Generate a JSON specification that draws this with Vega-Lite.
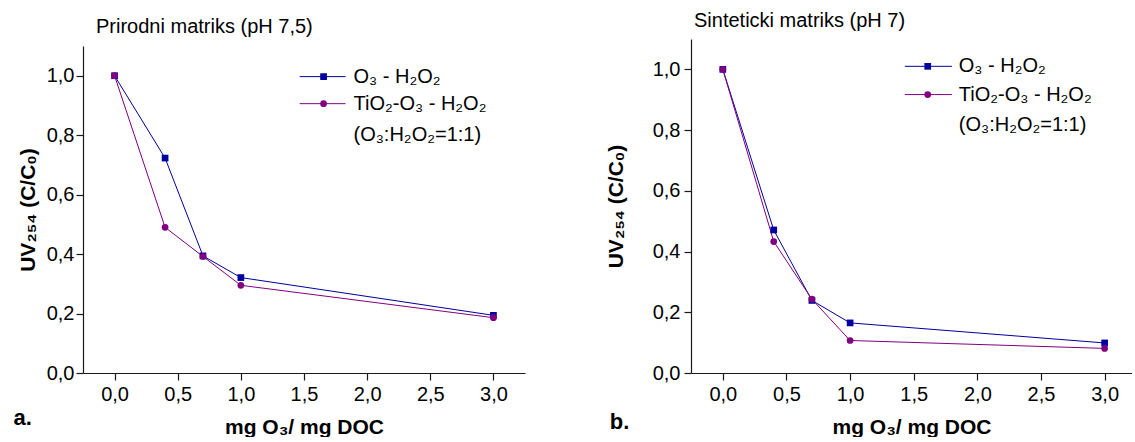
{
"$schema": "https://vega.github.io/schema/vega-lite/v6.json",
"background": "white",
"padding": {"left": 13, "top": 11, "right": 0, "bottom": 0},
"spacing": 80,
"config": {
  "font": "Liberation Sans",
  "view": {"stroke": null},
  "axis": {"grid": false, "domainColor": "#1a1a1a", "domainWidth": 1.2, "tickColor": "#1a1a1a", "tickWidth": 1.2,
    "labelColor": "#000", "labelFontSize": 20, "labelFont": "Liberation Sans",
    "titleColor": "#000", "titleFontSize": 21, "titleFontWeight": "bold", "titleFont": "Liberation Sans",
    "labelFlush": false, "labelOverlap": false},
  "title": {"fontSize": 20, "fontWeight": "normal", "anchor": "start", "frame": "group", "color": "#000", "font": "Liberation Sans"}
},
"datasets": {
  "natural": [
    {"dose": 0, "uv": 1.0, "series": "O3-H2O2"},
    {"dose": 0.4, "uv": 0.723, "series": "O3-H2O2"},
    {"dose": 0.7, "uv": 0.394, "series": "O3-H2O2"},
    {"dose": 1.0, "uv": 0.321, "series": "O3-H2O2"},
    {"dose": 3.0, "uv": 0.194, "series": "O3-H2O2"},
    {"dose": 0, "uv": 1.0, "series": "TiO2-O3-H2O2"},
    {"dose": 0.4, "uv": 0.49, "series": "TiO2-O3-H2O2"},
    {"dose": 0.7, "uv": 0.392, "series": "TiO2-O3-H2O2"},
    {"dose": 1.0, "uv": 0.295, "series": "TiO2-O3-H2O2"},
    {"dose": 3.0, "uv": 0.186, "series": "TiO2-O3-H2O2"}
  ],
  "synthetic": [
    {"dose": 0, "uv": 1.0, "series": "O3-H2O2"},
    {"dose": 0.4, "uv": 0.471, "series": "O3-H2O2"},
    {"dose": 0.7, "uv": 0.239, "series": "O3-H2O2"},
    {"dose": 1.0, "uv": 0.165, "series": "O3-H2O2"},
    {"dose": 3.0, "uv": 0.099, "series": "O3-H2O2"},
    {"dose": 0, "uv": 1.0, "series": "TiO2-O3-H2O2"},
    {"dose": 0.4, "uv": 0.433, "series": "TiO2-O3-H2O2"},
    {"dose": 0.7, "uv": 0.243, "series": "TiO2-O3-H2O2"},
    {"dose": 1.0, "uv": 0.107, "series": "TiO2-O3-H2O2"},
    {"dose": 3.0, "uv": 0.081, "series": "TiO2-O3-H2O2"}
  ]
},
"hconcat": [
  {
    "width": 442, "height": 334,
    "title": {"text": "Prirodni matriks (pH 7,5)", "dx": 13, "offset": 2},
    "layer": [
      {"data": {"name": "natural"}, "mark": {"type": "line", "strokeWidth": 1},
       "encoding": {
         "x": {"field": "dose", "type": "quantitative", "scale": {"domain": [-0.25, 3.25], "nice": false, "zero": false},
           "axis": {"title": "mg O₃/ mg DOC", "values": [0,0.25,0.5,0.75,1,1.25,1.5,1.75,2,2.25,2.5,2.75,3,3.25],
             "labelExpr": "datum.value*2 == round(datum.value*2) ? replace(format(datum.value, '.1f'), '.', ',') : ''",
             "tickSize": {"condition": {"test": "datum.value*2 == round(datum.value*2)", "value": 7}, "value": 4},
             "labelPadding": 4, "titlePadding": 12}},
         "y": {"field": "uv", "type": "quantitative", "scale": {"domain": [0, 1.1], "nice": false, "zero": false, "range": [334, 7]},
           "axis": {"title": "UV₂₅₄ (C/C₀)", "values": [0,0.1,0.2,0.3,0.4,0.5,0.6,0.7,0.8,0.9,1.0],
             "labelExpr": "round(datum.value*10) % 2 == 0 ? replace(format(datum.value, '.1f'), '.', ',') : ''",
             "tickSize": {"condition": {"test": "round(datum.value*10) % 2 == 0", "value": 7}, "value": 4},
             "labelPadding": 2, "titlePadding": 8}},
         "color": {"field": "series", "type": "nominal", "scale": {"domain": ["O3-H2O2", "TiO2-O3-H2O2"], "range": ["#0000A0", "#800080"]}, "legend": null}
       }},
      {"data": {"name": "natural"}, "mark": {"type": "point", "filled": true, "size": 45, "opacity": 1},
       "encoding": {
         "x": {"field": "dose", "type": "quantitative"},
         "y": {"field": "uv", "type": "quantitative"},
         "color": {"field": "series", "type": "nominal", "legend": null},
         "shape": {"field": "series", "type": "nominal", "scale": {"domain": ["O3-H2O2", "TiO2-O3-H2O2"], "range": ["square", "circle"]}, "legend": null}
       }},
      {"data": {"values": [{}]}, "mark": {"type": "rule", "color": "#0000A0", "strokeWidth": 1},
       "encoding": {"x": {"datum": 1.466}, "x2": {"datum": 1.829}, "y": {"datum": 0.997}}},
      {"data": {"values": [{}]}, "mark": {"type": "rule", "color": "#800080", "strokeWidth": 1},
       "encoding": {"x": {"datum": 1.466}, "x2": {"datum": 1.829}, "y": {"datum": 0.906}}},
      {"data": {"values": [{}]}, "mark": {"type": "point", "shape": "square", "filled": true, "size": 45, "color": "#0000A0", "opacity": 1},
       "encoding": {"x": {"datum": 1.655}, "y": {"datum": 0.997}}},
      {"data": {"values": [{}]}, "mark": {"type": "point", "shape": "circle", "filled": true, "size": 45, "color": "#800080", "opacity": 1},
       "encoding": {"x": {"datum": 1.655}, "y": {"datum": 0.906}}},
      {"data": {"values": [{}]}, "mark": {"type": "text", "align": "left", "baseline": "middle", "fontSize": 20, "color": "#000"},
       "encoding": {"x": {"datum": 1.892}, "y": {"datum": 0.997}, "text": {"value": "O₃ - H₂O₂"}}},
      {"data": {"values": [{}]}, "mark": {"type": "text", "align": "left", "baseline": "middle", "fontSize": 20, "color": "#000"},
       "encoding": {"x": {"datum": 1.892}, "y": {"datum": 0.906}, "text": {"value": "TiO₂-O₃ - H₂O₂"}}},
      {"data": {"values": [{}]}, "mark": {"type": "text", "align": "left", "baseline": "middle", "fontSize": 20, "color": "#000"},
       "encoding": {"x": {"datum": 1.892}, "y": {"datum": 0.801}, "text": {"value": "(O₃:H₂O₂=1:1)"}}},
      {"data": {"values": [{}]}, "mark": {"type": "text", "align": "left", "baseline": "middle", "fontSize": 22, "fontWeight": "bold", "color": "#000"},
       "encoding": {"x": {"datum": -0.80}, "y": {"datum": -0.152}, "text": {"value": "a."}}}
    ]
  },
  {
    "width": 441, "height": 334,
    "title": {"text": "Sinteticki matriks (pH 7)", "dx": 3, "offset": 8},
    "layer": [
      {"data": {"name": "synthetic"}, "mark": {"type": "line", "strokeWidth": 1},
       "encoding": {
         "x": {"field": "dose", "type": "quantitative", "scale": {"domain": [-0.25, 3.215], "nice": false, "zero": false},
           "axis": {"title": "mg O₃/ mg DOC", "values": [0,0.25,0.5,0.75,1,1.25,1.5,1.75,2,2.25,2.5,2.75,3],
             "labelExpr": "datum.value*2 == round(datum.value*2) ? replace(format(datum.value, '.1f'), '.', ',') : ''",
             "tickSize": {"condition": {"test": "datum.value*2 == round(datum.value*2)", "value": 7}, "value": 4},
             "labelPadding": 4, "titlePadding": 12}},
         "y": {"field": "uv", "type": "quantitative", "scale": {"domain": [0, 1.1], "nice": false, "zero": false},
           "axis": {"title": "UV₂₅₄ (C/C₀)", "values": [0,0.1,0.2,0.3,0.4,0.5,0.6,0.7,0.8,0.9,1.0],
             "labelExpr": "round(datum.value*10) % 2 == 0 ? replace(format(datum.value, '.1f'), '.', ',') : ''",
             "tickSize": {"condition": {"test": "round(datum.value*10) % 2 == 0", "value": 7}, "value": 4},
             "labelPadding": 4, "titlePadding": 26}},
         "color": {"field": "series", "type": "nominal", "scale": {"domain": ["O3-H2O2", "TiO2-O3-H2O2"], "range": ["#0000A0", "#800080"]}, "legend": null}
       }},
      {"data": {"name": "synthetic"}, "mark": {"type": "point", "filled": true, "size": 45, "opacity": 1},
       "encoding": {
         "x": {"field": "dose", "type": "quantitative"},
         "y": {"field": "uv", "type": "quantitative"},
         "color": {"field": "series", "type": "nominal", "legend": null},
         "shape": {"field": "series", "type": "nominal", "scale": {"domain": ["O3-H2O2", "TiO2-O3-H2O2"], "range": ["square", "circle"]}, "legend": null}
       }},
      {"data": {"values": [{}]}, "mark": {"type": "rule", "color": "#0000A0", "strokeWidth": 1},
       "encoding": {"x": {"datum": 1.43}, "x2": {"datum": 1.80}, "y": {"datum": 1.01}}},
      {"data": {"values": [{}]}, "mark": {"type": "rule", "color": "#800080", "strokeWidth": 1},
       "encoding": {"x": {"datum": 1.43}, "x2": {"datum": 1.80}, "y": {"datum": 0.917}}},
      {"data": {"values": [{}]}, "mark": {"type": "point", "shape": "square", "filled": true, "size": 45, "color": "#0000A0", "opacity": 1},
       "encoding": {"x": {"datum": 1.61}, "y": {"datum": 1.01}}},
      {"data": {"values": [{}]}, "mark": {"type": "point", "shape": "circle", "filled": true, "size": 45, "color": "#800080", "opacity": 1},
       "encoding": {"x": {"datum": 1.61}, "y": {"datum": 0.917}}},
      {"data": {"values": [{}]}, "mark": {"type": "text", "align": "left", "baseline": "middle", "fontSize": 20, "color": "#000"},
       "encoding": {"x": {"datum": 1.854}, "y": {"datum": 1.01}, "text": {"value": "O₃ - H₂O₂"}}},
      {"data": {"values": [{}]}, "mark": {"type": "text", "align": "left", "baseline": "middle", "fontSize": 20, "color": "#000"},
       "encoding": {"x": {"datum": 1.854}, "y": {"datum": 0.917}, "text": {"value": "TiO₂-O₃ - H₂O₂"}}},
      {"data": {"values": [{}]}, "mark": {"type": "text", "align": "left", "baseline": "middle", "fontSize": 20, "color": "#000"},
       "encoding": {"x": {"datum": 1.854}, "y": {"datum": 0.818}, "text": {"value": "(O₃:H₂O₂=1:1)"}}},
      {"data": {"values": [{}]}, "mark": {"type": "text", "align": "left", "baseline": "middle", "fontSize": 22, "fontWeight": "bold", "color": "#000"},
       "encoding": {"x": {"datum": -0.888}, "y": {"datum": -0.161}, "text": {"value": "b."}}}
    ]
  }
]
}
